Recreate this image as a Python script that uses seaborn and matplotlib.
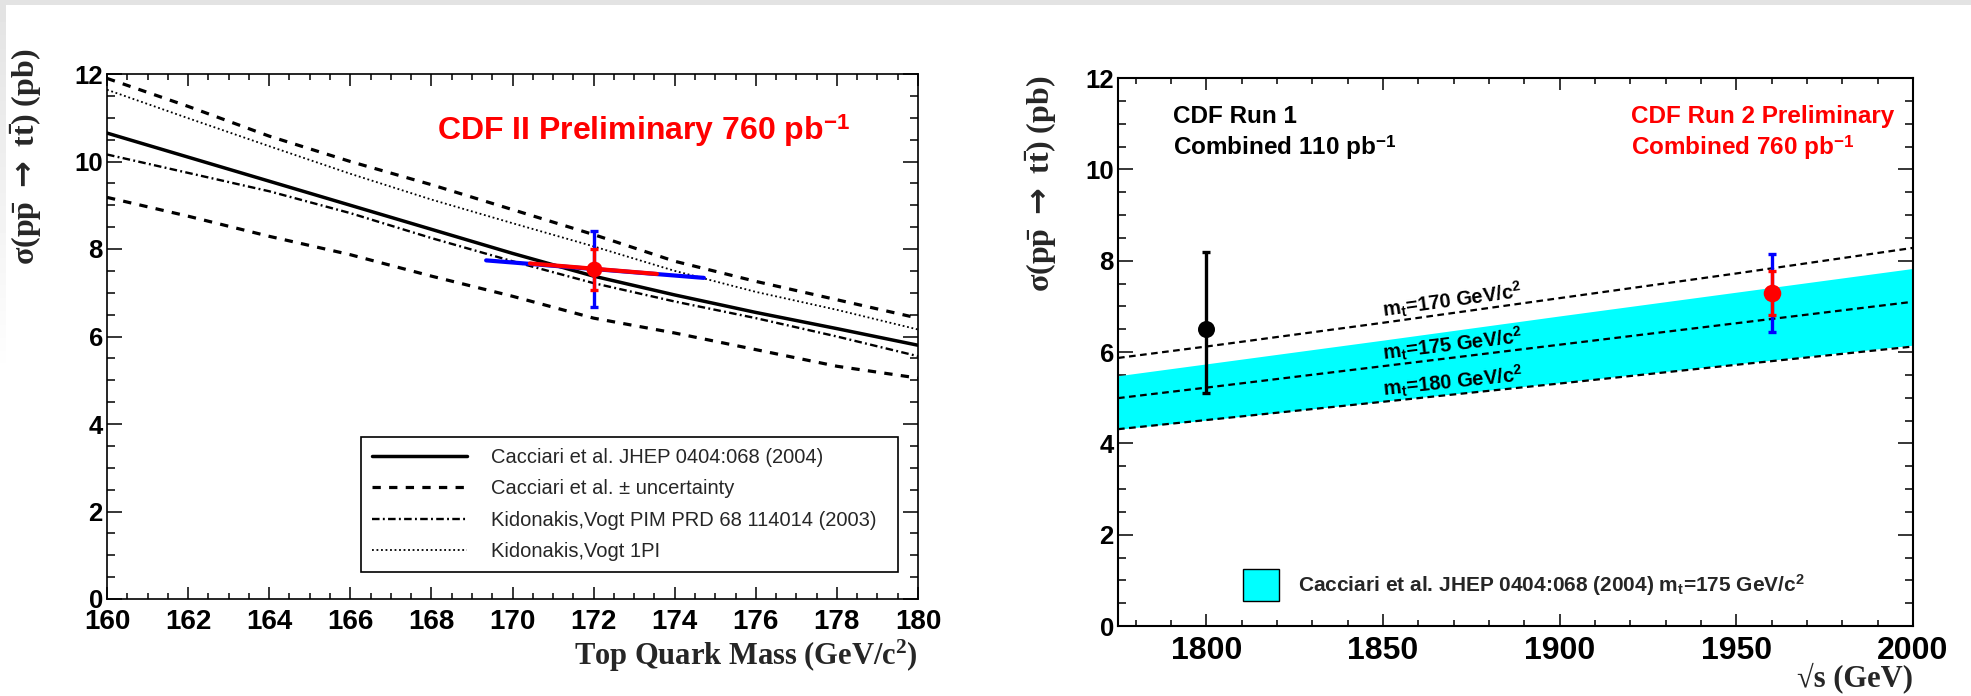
import numpy as np
import matplotlib
matplotlib.use("Agg")
import matplotlib.pyplot as plt
from matplotlib.lines import Line2D
from matplotlib.patches import Patch, Rectangle
from matplotlib.ticker import MultipleLocator
import seaborn as sns

# ---------------- data: cross section vs top mass ----------------
mass = [160, 162, 164, 166, 168, 170, 172, 174, 176, 178, 180]
cacciari_central = [10.65, 10.10, 9.55, 9.00, 8.45, 7.90, 7.38, 6.95, 6.55, 6.18, 5.80]
cacciari_upper = [11.90, 11.26, 10.58, 10.00, 9.47, 8.90, 8.33, 7.72, 7.26, 6.84, 6.42]
cacciari_lower = [9.18, 8.75, 8.29, 7.87, 7.38, 6.92, 6.42, 6.08, 5.70, 5.32, 5.05]
kidonakis_pim = [10.16, 9.74, 9.32, 8.82, 8.25, 7.72, 7.22, 6.80, 6.42, 6.00, 5.55]
kidonakis_1pi = [11.64, 10.99, 10.35, 9.72, 9.13, 8.59, 8.06, 7.50, 7.02, 6.61, 6.16]

# CDF II measurement (760 pb^-1)
meas_mass = [172.0]
meas_xs = [7.54]
meas_xs_stat = [0.47]
meas_xs_total = [0.87]
# mass uncertainty segments (mass, cross section at each end)
mass_stat_ends = [170.43, 173.56]
xs_stat_ends = [7.67, 7.43]
mass_total_ends = [169.35, 174.72]
xs_total_ends = [7.74, 7.34]

# ---------------- data: cross section vs sqrt(s) ----------------
sqrt_s = [1775, 1800, 1850, 1900, 1950, 2000]
xs_mt170 = [5.87, 6.12, 6.64, 7.18, 7.72, 8.28]
xs_mt175 = [4.99, 5.22, 5.69, 6.16, 6.63, 7.10]
xs_mt180 = [4.31, 4.51, 4.91, 5.31, 5.72, 6.12]
band_hi = [5.48, 5.74, 6.26, 6.79, 7.31, 7.83]
band_lo = [4.31, 4.51, 4.92, 5.33, 5.74, 6.15]
curve_labels = ["170", "175", "180"]

run1_sqrt_s = [1800]
run1_xs = [6.5]
run1_err_lo = [1.4]
run1_err_hi = [1.7]

run2_sqrt_s = [1960]
run2_xs = [7.29]
run2_stat = [0.48]
run2_total = [0.85]

# ---------------- style ----------------
sns.set_style("ticks")
plt.rcParams["font.family"] = ["Liberation Sans", "DejaVu Sans"]
plt.rcParams["font.weight"] = "bold"
plt.rcParams["mathtext.fontset"] = "custom"
plt.rcParams["mathtext.rm"] = "Liberation Serif:bold"
plt.rcParams["mathtext.it"] = "Liberation Serif:bold"
plt.rcParams["mathtext.bf"] = "Liberation Serif:bold"
plt.rcParams["mathtext.sf"] = "Liberation Sans:bold"
plt.rcParams["mathtext.cal"] = "DejaVu Sans"

RED = "#ff0000"
BLUE = "#0000ff"
CYAN = "#00ffff"
SERIF = ["Liberation Serif", "DejaVu Serif"]
YLABEL = r"$\mathrm{\sigma(p\bar{p}}\ \mathcal{\rightarrow}\ \mathrm{t\bar{t})}$ (pb)"

W, H = 1971, 696
fig = plt.figure(figsize=(W / 100, H / 100), dpi=100)
fig.patch.set_facecolor("white")

# slide frame: grey top strip and fading left strip
fig.patches.append(Rectangle((0, 1 - 5 / H), 1, 5 / H, transform=fig.transFigure,
                             facecolor="#e3e3e3", edgecolor="none", zorder=-10))
edge_ax = fig.add_axes([0, 1 - 380 / H, 6 / W, 375 / H], zorder=-10)
grad = np.linspace(0.89, 1.0, 64).reshape(-1, 1)
edge_ax.imshow(np.repeat(grad, 2, axis=1), cmap="gray", vmin=0, vmax=1, aspect="auto")
edge_ax.axis("off")

ax1 = fig.add_axes([107 / W, 1 - 599 / H, 811 / W, 525 / H])
ax2 = fig.add_axes([1118 / W, 1 - 626 / H, 795 / W, 548 / H])

# ---------------- left panel ----------------
solid = dict(color="black", lw=2.5, linestyle="-")
dashed = dict(color="black", lw=2.3, linestyle=(0, (2.6, 2.6)))
dashdot = dict(color="black", lw=1.7, linestyle=(0, (3.2, 1.4, 0.8, 1.4)))
dotted = dict(color="black", lw=1.3, linestyle=(0, (1.0, 1.5)))

sns.lineplot(x=mass, y=cacciari_central, ax=ax1, **solid)
sns.lineplot(x=mass, y=cacciari_upper, ax=ax1, **dashed)
sns.lineplot(x=mass, y=cacciari_lower, ax=ax1, **dashed)
sns.lineplot(x=mass, y=kidonakis_pim, ax=ax1, **dashdot)
sns.lineplot(x=mass, y=kidonakis_1pi, ax=ax1, **dotted)

sns.lineplot(x=mass_total_ends, y=xs_total_ends, ax=ax1, color=BLUE, lw=3.0, zorder=4)
ax1.errorbar(meas_mass, meas_xs, yerr=meas_xs_total, fmt="none", ecolor=BLUE,
             elinewidth=2.4, capsize=3, capthick=2.4, zorder=4)
sns.lineplot(x=mass_stat_ends, y=xs_stat_ends, ax=ax1, color=RED, lw=3.0, zorder=5)
ax1.errorbar(meas_mass, meas_xs, yerr=meas_xs_stat, fmt="none", ecolor=RED,
             elinewidth=2.4, capsize=3, capthick=2.4, zorder=5)
sns.scatterplot(x=meas_mass, y=meas_xs, ax=ax1, color=RED, s=130, edgecolor=RED,
                linewidth=0, zorder=6)

ax1.set_xlim(160, 180)
ax1.set_ylim(0, 12)
ax1.xaxis.set_major_locator(MultipleLocator(2))
ax1.xaxis.set_minor_locator(MultipleLocator(0.5))
ax1.yaxis.set_major_locator(MultipleLocator(2))
ax1.yaxis.set_minor_locator(MultipleLocator(0.5))

ax1.text(0.407, 0.874, r"CDF II Preliminary 760 pb$^{\mathsf{-1}}$", transform=ax1.transAxes,
         color=RED, fontsize=23, fontweight="bold", ha="left", va="baseline")

legend_handles = [
    Line2D([], [], **solid),
    Line2D([], [], **dashed),
    Line2D([], [], **dashdot),
    Line2D([], [], **dotted),
]
legend_labels = [
    "Cacciari et al. JHEP 0404:068 (2004)",
    "Cacciari et al. \u00b1 uncertainty",
    "Kidonakis,Vogt PIM PRD 68 114014 (2003)",
    "Kidonakis,Vogt 1PI",
]
leg1 = ax1.legend(legend_handles, legend_labels, loc="upper left",
                  bbox_to_anchor=(0.313, 0.309, 0.662, 0.0), mode="expand",
                  borderaxespad=0, prop={"family": "Liberation Sans", "weight": "normal", "size": 14.5},
                  frameon=True, fancybox=False, edgecolor="black", framealpha=1,
                  handlelength=4.7, handletextpad=1.2, labelspacing=0.62, borderpad=0.55)
leg1.get_frame().set_linewidth(1.2)

ax1.set_xlabel(r"Top Quark Mass (GeV/c$^{\mathrm{2}}$)", fontsize=22, family=SERIF,
               fontweight="bold", loc="right")
ax1.xaxis.set_label_coords(1.0, -0.074)
ax1.xaxis.label.set_verticalalignment("top")
ax1.set_ylabel(YLABEL, fontsize=23, family=SERIF, fontweight="bold", loc="top")
ax1.yaxis.set_label_coords(-0.078, 1.048)

# ---------------- right panel ----------------
ax2.fill_between(sqrt_s, band_lo, band_hi, color=CYAN, lw=0, zorder=1)
thin_dash = dict(color="black", lw=1.6, linestyle=(0, (3, 2)))
for ys in [xs_mt170, xs_mt175, xs_mt180]:
    sns.lineplot(x=sqrt_s, y=ys, ax=ax2, zorder=3, **thin_dash)

ax2.errorbar(run1_sqrt_s, run1_xs, yerr=[run1_err_lo, run1_err_hi], fmt="none",
             ecolor="black", elinewidth=2.4, capsize=3, capthick=2.4, zorder=5)
sns.scatterplot(x=run1_sqrt_s, y=run1_xs, ax=ax2, color="black", s=150,
                linewidth=0, zorder=6)
ax2.errorbar(run2_sqrt_s, run2_xs, yerr=run2_total, fmt="none", ecolor=BLUE,
             elinewidth=2.4, capsize=3, capthick=2.4, zorder=5)
ax2.errorbar(run2_sqrt_s, run2_xs, yerr=run2_stat, fmt="none", ecolor=RED,
             elinewidth=2.4, capsize=3, capthick=2.4, zorder=5)
sns.scatterplot(x=run2_sqrt_s, y=run2_xs, ax=ax2, color=RED, s=160,
                linewidth=0, zorder=6)

ax2.set_xlim(1775, 2000)
ax2.set_ylim(0, 12)
ax2.xaxis.set_major_locator(MultipleLocator(50))
ax2.xaxis.set_minor_locator(MultipleLocator(10))
ax2.yaxis.set_major_locator(MultipleLocator(2))
ax2.yaxis.set_minor_locator(MultipleLocator(0.5))

# labels along the mass curves
fig.canvas.draw()
for ys, lab in zip([xs_mt170, xs_mt175, xs_mt180], curve_labels):
    x0 = 1850
    y0 = np.interp(x0, sqrt_s, ys)
    p1 = ax2.transData.transform((sqrt_s[0], ys[0]))
    p2 = ax2.transData.transform((sqrt_s[-1], ys[-1]))
    ang = np.degrees(np.arctan2(p2[1] - p1[1], p2[0] - p1[0]))
    ax2.text(x0, y0 + 0.14, r"$\mathsf{m_t}$=" + lab + r" GeV/c$^{\mathsf{2}}$",
             rotation=ang, rotation_mode="anchor", ha="left", va="baseline",
             fontsize=14.5, fontweight="bold", color="black", zorder=4)

ax2.text(0.069, 0.917, "CDF Run 1", transform=ax2.transAxes, fontsize=17.5,
         fontweight="bold", color="black", ha="left", va="baseline")
ax2.text(0.069, 0.860, r"Combined 110 pb$^{\mathsf{-1}}$", transform=ax2.transAxes,
         fontsize=17.5, fontweight="bold", color="black", ha="left", va="baseline")
ax2.text(0.645, 0.917, "CDF Run 2 Preliminary", transform=ax2.transAxes, fontsize=17.5,
         fontweight="bold", color=RED, ha="left", va="baseline")
ax2.text(0.645, 0.860, r"Combined 760 pb$^{\mathsf{-1}}$", transform=ax2.transAxes,
         fontsize=17.5, fontweight="bold", color=RED, ha="left", va="baseline")

band_handle = Patch(facecolor=CYAN, edgecolor="black", linewidth=1.0)
leg2 = ax2.legend([band_handle],
                  [r"Cacciari et al. JHEP 0404:068 (2004) $\mathsf{m_t}$=175 GeV/c$^{\mathsf{2}}$"],
                  loc="center left", bbox_to_anchor=(0.157, 0.075), borderaxespad=0,
                  borderpad=0, frameon=False, handlelength=1.75, handleheight=2.0,
                  handletextpad=0.9, prop={"family": "Liberation Sans", "weight": "bold", "size": 15})

ax2.set_xlabel("\u221as (GeV)", fontsize=22, family=SERIF, fontweight="bold", loc="right")
ax2.xaxis.set_label_coords(1.0, -0.066)
ax2.xaxis.label.set_verticalalignment("top")
ax2.set_ylabel(YLABEL, fontsize=23, family=SERIF, fontweight="bold", loc="top")
ax2.yaxis.set_label_coords(-0.074, 1.005)

# ---------------- axes frames and ticks ----------------
for ax, xls, yls, spw in [(ax1, 20, 18.5, 1.2), (ax2, 23, 18.5, 1.5)]:
    for sp in ax.spines.values():
        sp.set_visible(True)
        sp.set_linewidth(spw)
        sp.set_color("black")
    ax.tick_params(which="both", direction="in", top=True, right=True, width=1.1, colors="black")
    ax.tick_params(axis="y", which="major", length=11, pad=3, labelsize=yls)
    ax.tick_params(axis="y", which="minor", length=5.5)
    ax.tick_params(axis="x", which="major", length=8.5, pad=7, labelsize=xls)
    ax.tick_params(axis="x", which="minor", length=4.5)
    for t in ax.get_xticklabels() + ax.get_yticklabels():
        t.set_fontweight("bold")
        t.set_family(["Liberation Sans", "DejaVu Sans"])
    ax.set_facecolor("white")

fig.savefig("out.png", dpi=100, facecolor="white")
